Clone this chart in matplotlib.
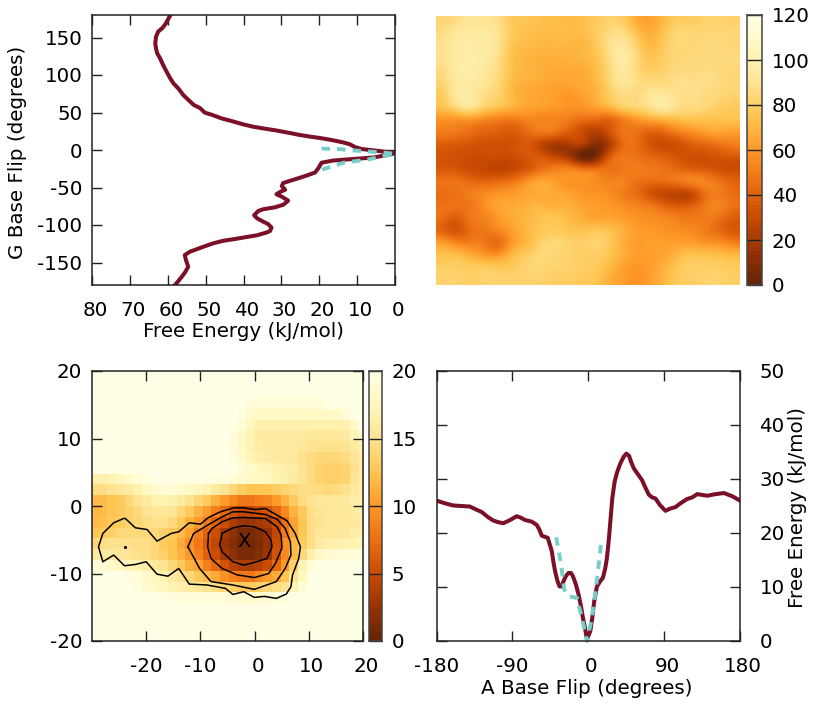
"""
Base flip free energy surfaces
"""
import numpy as np
import matplotlib
matplotlib.use('Agg')
import matplotlib.pyplot as plt
from matplotlib.transforms import ScaledTranslation

#############################################
# Data
# -------------------------

# G base flip profile (top left)
g_angle = [179, 168, 162.7, 158, 151, 142, 135.5, 129, 122, 113, 104.4, 96, 88.9, 82, 73.3, 67, 60,
           56, 49.8, 47, 42.2, 38, 34.2, 31, 28.4, 26, 23.1, 20, 17.8, 16, 13.3, 10, 7.6, 4, 1.3, 0,
           -2, -4, -6, -10, -12, -14, -17, -24, -30, -33.3, -37, -40.4, -44, -48, -53, -55.6, -59,
           -62.2, -67.5, -73, -76.4, -79, -81.3, -87, -91.1, -95.5, -98.7, -103.5, -108, -110,
           -113.8, -116, -118.7, -121, -124.4, -129, -132.4, -135.5, -140, -146.7, -155.5, -162.2,
           -169, -174.7, -180]
g_energy = [59.4, 60.6, 61.4, 62.5, 63.1, 63.3, 63.1, 62.8, 62, 61.2, 60.3, 59.4, 58.5, 57.2, 55.9,
            54.6, 53.1, 51.5, 50.2, 48.4, 45.8, 42.7, 40.1, 37.4, 34.3, 31.3, 28.2, 25.1, 22.4, 19.8,
            16.7, 13.6, 11.9, 10.6, 8.8, 6.6, 3.1, 0, 1.3, 5.7, 11, 16.3, 19.4, 20.2, 21.1, 22.9,
            25.1, 27.3, 29.5, 29.9, 29, 30.2, 31.3, 29.9, 28.2, 29.5, 31.7, 34.8, 36.1, 37.2, 36.4,
            34.8, 33.5, 32.6, 33, 33.9, 36.5, 39.2, 42.3, 45.3, 48, 50.6, 52.4, 54.1, 55.5, 55.2,
            54.6, 55.3, 56.3, 57.2, 58.1]
g_fit_angle = [2, 1, 0, -2, -5, -13, -17, -27]
g_fit_energy = [19.4, 14, 12.8, 6.6, 0, 7.5, 13.6, 19.8]

# A base flip profile (bottom right)
a_angle = [-180, -170.1, -160.2, -150.3, -140.4, -132.4, -126.5, -118.6, -112.6, -106.7, -100.7,
           -92.8, -84.9, -80.9, -74.9, -67, -61.1, -57.9, -55.1, -48, -43.2, -41.2, -39.3, -36.5,
           -34.1, -31.3, -29.3, -26.6, -23.4, -20.6, -18.2, -14.7, -11.5, -8.7, -6.3, -3.6, -1.6,
           2.4, 4.8, 7.1, 10.3, 14.3, 17.4, 20.2, 22.2, 24.6, 26.2, 28.5, 31.3, 34.1, 38.1, 42,
           45.2, 48.4, 50.8, 53.9, 57.9, 63.8, 67.8, 71.8, 75.7, 79.7, 84.9, 91.6, 96.8, 103.5,
           109.4, 117.4, 123.3, 129.3, 141.2, 151.1, 161, 170.9, 180]
a_energy = [26, 25.5, 25.1, 25, 24.9, 24.3, 23.9, 22.9, 22.3, 22, 21.8, 22.4, 23.1, 22.9, 22.4, 22.1,
            21.5, 20.6, 19.5, 19.1, 16.6, 14.5, 12.9, 11.1, 10.1, 10.1, 11.1, 12, 12.6, 12.6, 12,
            10.5, 8.6, 6.5, 4.3, 2.2, 0.3, 1.8, 4.3, 7.4, 10.1, 11.1, 11.7, 13.5, 15.4, 19.1, 22.1,
            26.4, 29.5, 31.2, 32.9, 34.1, 34.7, 34.3, 33.2, 32, 31.1, 29.8, 28.4, 27.1, 26.6, 26.4,
            25.2, 24.1, 24.5, 24.8, 25.5, 26.3, 26.6, 27.2, 26.9, 27.2, 27.4, 26.8, 26]
a_fit_angle = [-38, -32.1, -28.5, -23.4, -13.5, -7.5, -1.6, 4.4, 9.1, 11.5, 15.5]
a_fit_energy = [19.2, 14.1, 9.5, 8.3, 8, 4.3, 0, 4.3, 9.8, 12.9, 18.5]

# Full surface, top row first (top right)
surface = [
    [84, 88, 92, 92, 88, 78, 76, 74, 73, 72, 73, 78, 82, 80, 68, 64, 72, 80, 80, 82, 82, 82],
    [88, 94, 96, 96, 90, 78, 74, 72, 72, 72, 72, 78, 86, 88, 76, 68, 76, 84, 84, 84, 84, 84],
    [90, 96, 98, 96, 90, 76, 72, 70, 70, 70, 70, 76, 88, 94, 82, 72, 78, 84, 84, 86, 86, 84],
    [90, 96, 98, 96, 88, 74, 70, 68, 68, 68, 70, 74, 86, 96, 86, 76, 80, 84, 86, 86, 86, 86],
    [87, 96, 98, 94, 86, 74, 70, 68, 66, 66, 66, 72, 84, 94, 86, 80, 82, 86, 86, 87, 86, 84],
    [84, 94, 96, 92, 84, 72, 68, 66, 64, 64, 66, 70, 82, 92, 88, 86, 86, 88, 88, 88, 86, 84],
    [80, 94, 96, 88, 82, 72, 66, 64, 62, 60, 62, 68, 78, 86, 86, 92, 94, 88, 88, 86, 84, 82],
    [74, 84, 90, 80, 74, 68, 64, 62, 60, 58, 58, 62, 68, 78, 82, 88, 94, 88, 86, 84, 80, 78],
    [58, 58, 58, 54, 50, 48, 52, 52, 52, 50, 44, 42, 40, 50, 58, 64, 68, 72, 74, 74, 74, 74],
    [50, 48, 44, 40, 38, 36, 42, 48, 46, 38, 30, 22, 32, 46, 46, 40, 42, 50, 56, 62, 64, 62],
    [38, 36, 34, 32, 32, 32, 36, 28, 20, 20, 22, 10, 20, 42, 44, 34, 30, 32, 38, 42, 46, 50],
    [34, 32, 30, 30, 30, 30, 34, 36, 28, 20, 3, 5, 34, 48, 46, 42, 38, 34, 32, 32, 34, 36],
    [36, 34, 30, 28, 26, 28, 34, 44, 50, 52, 46, 44, 46, 48, 50, 48, 46, 42, 38, 36, 32, 30],
    [46, 46, 42, 40, 42, 46, 56, 64, 62, 58, 58, 56, 52, 52, 46, 44, 44, 48, 52, 52, 46, 40],
    [44, 46, 50, 54, 58, 60, 64, 66, 66, 64, 60, 58, 56, 50, 44, 34, 28, 26, 30, 46, 50, 44],
    [46, 46, 48, 56, 64, 66, 68, 70, 68, 68, 64, 62, 60, 56, 52, 48, 40, 36, 38, 48, 52, 46],
    [44, 38, 48, 52, 60, 66, 70, 74, 76, 72, 68, 64, 64, 62, 58, 56, 54, 50, 48, 50, 46, 38],
    [40, 34, 44, 48, 54, 62, 70, 76, 78, 76, 74, 76, 74, 68, 62, 60, 58, 56, 54, 50, 42, 36],
    [60, 52, 50, 48, 44, 60, 70, 80, 84, 82, 80, 82, 78, 68, 62, 62, 62, 62, 62, 58, 56, 50],
    [74, 72, 66, 60, 58, 70, 78, 84, 84, 82, 80, 80, 76, 68, 62, 62, 64, 70, 74, 74, 72, 70],
    [80, 80, 78, 78, 76, 78, 82, 84, 82, 82, 80, 78, 72, 64, 60, 62, 68, 76, 80, 80, 80, 78],
    [82, 82, 80, 82, 82, 82, 82, 82, 80, 80, 78, 76, 68, 62, 58, 62, 70, 78, 80, 82, 82, 80],
]

# Zoomed surface, top row first, cells are 1.6 wide and high (bottom left)
zoom_x = np.arange(-19, 14)*1.6
zoom_y = np.arange(13, -14, -1)*1.6
zoom_rows = [
    [20]*32,
    [20]*32,
    [20]*32,
    [20]*18 + [19.2]*9 + [20]*5,
    [20]*17 + [19.4, 18.4] + [18]*10 + [19.2, 20, 20],
    [20]*17 + [19, 17.6] + [16.6]*11 + [18.5, 20],
    [20]*16 + [19.5, 18.2, 17] + [16]*6 + [15.6, 15.6, 15.6, 15.6, 16, 17.2, 18.6],
    [20]*16 + [19.5, 18, 17, 16.2, 16, 16, 16, 15.8, 15.4, 15, 14.8, 14.8, 14.8, 15, 15.8, 16.8],
    [20]*16 + [19.5, 18.4, 17.2, 16.6, 16.2, 16, 15.8, 15.6, 14.8, 14.4, 14, 14, 14, 14.4, 15.2, 16.4],
    [20]*17 + [19, 18.3, 17.8, 17.2, 16.8, 16.4, 16.2, 15.2, 14.4, 13.8, 13.5, 13.5, 13.8, 14.8, 16.2],
    [16.5, 16.5, 17, 17.5, 18.3, 19, 19.5, 19.8, 19.8, 19.8, 19.8, 19.8, 19.8, 19.5, 19.3, 19.3, 19,
     18.5, 18, 18, 17.5, 17, 16.5, 16, 15.2, 14.4, 13.8, 13.5, 13.5, 13.8, 15.2, 16.2],
    [14.5, 14.5, 15, 15.5, 16, 16.8, 17.7, 18.5, 19, 19, 18.5, 18, 17.5, 17, 16, 15, 14, 13.2,
     12.5, 12.5, 12.8, 13.2, 13.8, 14.2, 14.6, 14.6, 14.4, 14.2, 14.4, 14.8, 15.6, 16.4],
    [12, 12, 12.5, 13, 14, 15, 15.8, 16.6, 17, 16.6, 16, 15, 14, 13, 11.5, 10, 9, 8,
     8, 8.5, 8.8, 10, 11.5, 13, 14.4, 15.2, 15.6, 15.6, 15.6, 15.6, 16.2, 16.6],
    [11.8, 12, 12.5, 13, 13.5, 14.2, 15, 15.4, 15.4, 15.2, 14.2, 13, 11.5, 10, 8.5, 7, 5.5, 4.5,
     4.5, 5, 5.5, 7, 9, 11.5, 13, 14.6, 15.2, 15.5, 15.5, 15.6, 16, 16.2],
    [12, 12.3, 12.8, 13.2, 13.6, 14, 14.4, 14.8, 14.8, 14.2, 13, 11.5, 10, 8, 6.5, 5, 3.5, 2.5,
     2.5, 3, 3.5, 5, 7.5, 10.5, 12.6, 14.5, 15, 15.5, 15.5, 15.5, 15.7, 16.2],
    [12.5, 13, 13.5, 14, 14.2, 14.2, 14.2, 14, 13.5, 13, 12, 10.5, 8.5, 6.5, 5, 3, 2, 1,
     1, 1.5, 2.5, 4.5, 8, 10.5, 12.6, 14.5, 15.4, 15.5, 15.5, 15.7, 16.2, 16.6],
    [14, 14.5, 14.8, 14.8, 14.8, 14.6, 14.5, 14, 13, 12.5, 11, 9.5, 8, 6, 4.5, 2.5, 1.5, 0.7,
     0.7, 1.2, 2.2, 5, 9.5, 12, 13.2, 14.6, 16, 16.5, 16.5, 16.7, 16.9, 17.3],
    [16, 16, 16, 15.5, 15.2, 14.8, 14.6, 14, 13.5, 12.5, 11.5, 10, 8.5, 6.5, 5, 3, 2, 1,
     1, 1.5, 2.8, 5.5, 9, 12, 14.2, 16.6, 18, 18.6, 18.9, 19.2, 19.4, 19.4],
    [18.8, 18.8, 18.3, 17.8, 17.2, 16.7, 16.2, 15.6, 15, 14, 13, 11.5, 10.5, 8.5, 7, 5.5, 4, 3.5,
     3.5, 4, 5, 7, 10, 13.5, 17, 19.2, 20, 20, 20, 20, 20, 20],
    [20, 20, 20, 20, 19.5, 19, 18.5, 17.5, 17, 16, 15, 14, 13, 12, 11, 9.5, 8.5, 8,
     8, 9, 10, 11, 12.5, 15, 17.5, 20, 20, 20, 20, 20, 20, 20],
    [20, 20, 20, 20, 20, 19.5, 18.5, 18, 17.5, 17, 16.5, 16, 15.5, 15, 14.5, 14, 13.5, 13,
     13, 13.5, 14, 14.5, 15, 17, 19, 20, 20, 20, 20, 20, 20, 20],
    [20]*7 + [19.8, 19.6, 19.5, 19.3, 19.3, 19.3, 19.3, 19.3, 19, 18.5, 18.5, 18.5, 18.5, 18.8,
              19, 19.3, 19.7] + [20]*8,
    [20]*15 + [19.8]*8 + [20]*9,
    [20]*32,
    [20]*32,
    [20]*32,
]

# Contour lines on the zoomed surface, outermost first
contour_1_x = [-23.85, -22, -19.85, -18, -15.4, -14, -12.05, -10, -8.5, -6.3, -3.85, -2, 0.15, 2,
               4.15, 6, 7.5, 8.45, 8.15, 7, 6.7, 5.85, 4, 1.8, -0.05, -2, -4, -5.4, -8.8, -12.05,
               -14, -16, -18, -20, -22, -24, -26, -28, -28.8, -28, -26, -24.15]
contour_1_y = [-1.85, -3.23, -3.48, -5.2, -4.07, -3.82, -2.49, -2.69, -1.7, -0.86, -0.27, -0.27,
               -0.52, -0.37, -1.36, -2.2, -4.07, -6.04, -7.77, -10.23, -11.96, -13.05, -13.69,
               -13.39, -13.54, -12.7, -13.1, -12.2, -11.7, -11.57, -9.25, -10.4, -10.1, -8.26,
               -8.66, -8.85, -7.27, -8.26, -6.04, -4.07, -2.49, -1.85]
contour_2_x = [-12.3, -11.25, -8.15, -6, -4, -2, 2, 4.15, 5.65, 6.6, 6.7, 5.65, 4, -0.05, -4, -8.05,
               -10.15, -12.3]
contour_2_y = [-6.04, -4.07, -2.6, -1.6, -0.86, -0.86, -1.26, -1.95, -3.33, -5.3, -7.27, -9.25, -11.2,
               -12.35, -11.7, -11.2, -9.25, -6.04]
contour_3_x = [-8.5, -7.85, -6, -4, -2, 2, 4.15, 4.9, 5.05, 3.85, 2.6, -0.05, -3.25, -6, -8.05, -8.65,
               -8.5]
contour_3_y = [-4.07, -3.33, -2.34, -1.75, -1.7, -1.85, -3.08, -4.3, -6.2, -8.5, -10, -10.6, -10.2,
               -9.25, -7.77, -6.04, -4.07]
contour_4_x = [-6, -4, -2, -0.05, 2, 3.05, 3.2, 2.3, -0.05, -2, -4, -6, -6.45, -6]
contour_4_y = [-4.07, -3.23, -2.93, -3.08, -3.82, -5.05, -6.04, -7.77, -8.36, -8.75, -8.26, -6.78,
               -5.8, -4.07]
contour_dot = (-24, -6.04)
minimum_mark = (-2, -5.2)

line_color = '#7a1128'
fit_color = '#78cfca'
cmap = 'YlOrBr_r'
font_size = 14.3
fit_style = (0, (2.2, 1.8))

plt.rcParams['font.family'] = 'DejaVu Sans'
plt.rcParams['font.size'] = font_size
plt.rcParams['axes.unicode_minus'] = False

W, H = 830., 712.
fig = plt.figure(figsize=(8.3, 7.12), dpi=100)


def add_axes(left, top, right, bottom):
    # axes box given in pixels of the final picture
    return fig.add_axes([left/W, 1 - bottom/H, (right - left)/W, (bottom - top)/H])


def style_axes(ax):
    for spine in ax.spines.values():
        spine.set_linewidth(1.1)
        spine.set_color('#222222')
    ax.tick_params(which='both', direction='in', length=7, width=1., color='#222222',
                   top=True, bottom=True, left=True, right=True, pad=7)
    ax.tick_params(axis='x', pad=11.5)
    # positive x tick labels sit a little right of their ticks
    for value, label in zip(ax.get_xticks(), ax.get_xticklabels()):
        if value >= 0:
            label.set_transform(label.get_transform() + ScaledTranslation(3/100., 0, fig.dpi_scale_trans))


def add_colorbar(left, top, right, bottom, vmax, ticks):
    cax = add_axes(left, top, right, bottom)
    gradient = np.linspace(0, 1, 64)[:, None]
    cax.imshow(gradient, origin='lower', aspect='auto', cmap=cmap, extent=[0, 1, 0, vmax])
    cax.set_xticks([])
    cax.yaxis.tick_right()
    cax.set_yticks(ticks)
    cax.tick_params(direction='in', length=(right - left)*0.72, width=1., color='#222222', pad=7)
    for spine in cax.spines.values():
        spine.set_linewidth(1.1)
        spine.set_color('#444444')
    return cax


#############################################
# G base flip profile
# -------------------

ax = add_axes(92, 15, 395, 285)
ax.plot(g_energy, g_angle, color=line_color, lw=2.9, solid_joinstyle='round')
ax.plot(g_fit_energy, g_fit_angle, color=fit_color, lw=2.8, ls=fit_style, clip_on=False)
ax.set_xlim(80, 0)
ax.set_ylim(-180, 180)
ax.set_xticks(np.arange(0, 90, 10))
ax.set_yticks(np.arange(-150, 200, 50))
style_axes(ax)
fig.text(243/W, 1 - 332/H, 'Free Energy (kJ/mol)', ha='center', va='center')
fig.text(18/W, 1 - 152/H, 'G Base Flip (degrees)', rotation=90, ha='center', va='center')

#############################################
# Full surface
# ------------

ax = add_axes(436, 16, 739, 285)
ax.imshow(surface, cmap=cmap, vmin=0, vmax=120, aspect='auto', interpolation='lanczos')
ax.axis('off')
add_colorbar(747, 15, 762, 285, 120, np.arange(0, 140, 20))

#############################################
# Zoomed surface with contours
# ----------------------------

ax = add_axes(92, 371, 363, 641)
ax.pcolormesh(zoom_x, zoom_y, np.array(zoom_rows), cmap=cmap, vmin=0, vmax=20, linewidth=0,
              rasterized=True)
ax.plot(contour_1_x, contour_1_y, color='k', lw=1.1)
ax.plot(contour_2_x, contour_2_y, color='k', lw=1.1)
ax.plot(contour_3_x, contour_3_y, color='k', lw=1.1)
ax.plot(contour_4_x, contour_4_y, color='k', lw=1.1)
ax.plot(*contour_dot, 'k.', ms=2.5)
ax.text(minimum_mark[0], minimum_mark[1], 'X', ha='center', va='center', color='k', fontsize=14)
ax.set_xlim(-30, 20)
ax.set_ylim(-20, 20)
ax.set_xticks(np.arange(-20, 30, 10))
ax.set_yticks(np.arange(-20, 30, 10))
style_axes(ax)
add_colorbar(369, 371, 382, 641, 20, np.arange(0, 25, 5))

#############################################
# A base flip profile
# -------------------

ax = add_axes(436.5, 371, 740, 641)
ax.plot(a_angle, a_energy, color=line_color, lw=2.9, solid_joinstyle='round')
ax.plot(a_fit_angle, a_fit_energy, color=fit_color, lw=2.8, ls=fit_style, clip_on=False)
ax.set_xlim(-180, 180)
ax.set_ylim(0, 50)
ax.set_xticks(np.arange(-180, 270, 90))
ax.set_yticks(np.arange(0, 60, 10))
style_axes(ax)
ax.tick_params(axis='y', labelleft=False, labelright=True, pad=14)
fig.text(587/W, 1 - 688/H, 'A Base Flip (degrees)', ha='center', va='center')
fig.text(797/W, 1 - 507/H, 'Free Energy (kJ/mol)', rotation=90, ha='center', va='center')

fig.savefig('out.png', dpi=100)
